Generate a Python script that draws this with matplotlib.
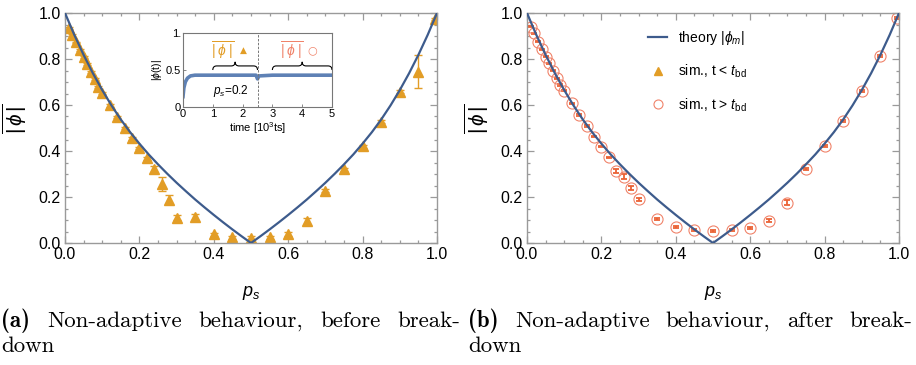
import matplotlib
matplotlib.use('Agg')
import matplotlib.pyplot as plt
from matplotlib.path import Path
from matplotlib.patches import PathPatch
from matplotlib.lines import Line2D
from matplotlib.ticker import MultipleLocator, FormatStrFormatter, FixedLocator, FixedFormatter

plt.rcParams['font.family'] = ['Liberation Sans', 'DejaVu Sans']
plt.rcParams['mathtext.fontset'] = 'custom'
plt.rcParams['mathtext.rm'] = 'Liberation Sans'
plt.rcParams['mathtext.it'] = 'Liberation Sans:italic'
plt.rcParams['mathtext.bf'] = 'Liberation Sans:bold'
plt.rcParams['mathtext.fallback'] = 'stixsans'

# ---------------- data ----------------
theory_p = [0.000, 0.025, 0.050, 0.075, 0.100, 0.125, 0.150, 0.175, 0.200, 0.225,
            0.250, 0.275, 0.300, 0.325, 0.350, 0.375, 0.400, 0.425, 0.450, 0.475,
            0.500, 0.525, 0.550, 0.575, 0.600, 0.625, 0.650, 0.675, 0.700, 0.725,
            0.750, 0.775, 0.800, 0.825, 0.850, 0.875, 0.900, 0.925, 0.950, 0.975, 1.000]
theory_v = [1.000, 0.905, 0.818, 0.738, 0.665, 0.598, 0.537, 0.482, 0.432, 0.385,
            0.342, 0.301, 0.262, 0.225, 0.189, 0.155, 0.122, 0.090, 0.059, 0.029,
            0.000, 0.029, 0.059, 0.090, 0.122, 0.155, 0.189, 0.225, 0.262, 0.301,
            0.342, 0.385, 0.432, 0.482, 0.537, 0.598, 0.665, 0.738, 0.818, 0.905, 1.000]

sim_p = [0.01, 0.02, 0.03, 0.04, 0.05, 0.06, 0.07, 0.08, 0.09, 0.10,
         0.12, 0.14, 0.16, 0.18, 0.20, 0.22, 0.24, 0.26, 0.28, 0.30,
         0.35, 0.40, 0.45, 0.50, 0.55, 0.60, 0.65, 0.70, 0.75, 0.80, 0.85, 0.90, 0.95,
         0.995]
before_v = [0.935, 0.903, 0.872, 0.838, 0.808, 0.778, 0.745, 0.712, 0.680, 0.652,
            0.598, 0.548, 0.500, 0.455, 0.414, 0.368, 0.322, 0.258, 0.188, 0.110,
            0.112, 0.037, 0.025, 0.022, 0.025, 0.040, 0.095, 0.228, 0.320, 0.420, 0.527, 0.658, 0.745,
            0.975]
before_err = [0.004, 0.004, 0.004, 0.004, 0.004, 0.004, 0.004, 0.004, 0.004, 0.004,
              0.005, 0.005, 0.005, 0.005, 0.005, 0.005, 0.012, 0.030, 0.020, 0.012,
              0.012, 0.008, 0.006, 0.008, 0.006, 0.008, 0.015, 0.008, 0.006, 0.006, 0.006, 0.006, 0.072,
              0.004]
after_v = [0.940, 0.912, 0.875, 0.842, 0.810, 0.781, 0.749, 0.716, 0.687, 0.662,
           0.607, 0.557, 0.509, 0.462, 0.419, 0.373, 0.314, 0.288, 0.240, 0.190,
           0.103, 0.071, 0.057, 0.054, 0.057, 0.067, 0.097, 0.175, 0.320, 0.422, 0.532, 0.662, 0.813,
           0.978]
after_err = [0.003, 0.003, 0.003, 0.003, 0.003, 0.003, 0.003, 0.003, 0.003, 0.003,
             0.003, 0.003, 0.003, 0.003, 0.003, 0.003, 0.008, 0.010, 0.010, 0.007,
             0.004, 0.004, 0.004, 0.004, 0.004, 0.004, 0.006, 0.010, 0.004, 0.004, 0.004, 0.004, 0.004,
             0.003]

inset_t = [0.0, 0.03, 0.08, 0.15, 0.25, 0.4, 0.7, 1.0, 1.5, 2.0, 2.45, 2.5, 2.55,
           3.0, 3.5, 4.0, 4.5, 5.0]
inset_v = [0.14, 0.26, 0.34, 0.39, 0.42, 0.43, 0.43, 0.43, 0.43, 0.43, 0.43, 0.38, 0.42,
           0.43, 0.43, 0.43, 0.43, 0.43]
breakdown_t = 2.5
windows = [(1.0, 2.5), (3.0, 5.0)]

xticks = [0.0, 0.2, 0.4, 0.6, 0.8, 1.0]
yticks = [0.0, 0.2, 0.4, 0.6, 0.8, 1.0]

# ---------------- styles ----------------
C_THEORY = '#3d5b8c'
C_ORANGE = '#e29d26'
C_RED = '#eb6235'
C_RED_LIGHT = '#f0836a'
C_INSET = '#5e81b5'
C_SPINE = '#9a9a9a'

W, H = 916, 365
fig = plt.figure(figsize=(W / 100, H / 100), dpi=100)


def px_axes(l, r, t, b):
    return fig.add_axes([l / W, (H - b) / H, (r - l) / W, (b - t) / H])


def style_main(ax):
    ax.set_xlim(0, 1)
    ax.set_ylim(0, 1)
    ax.xaxis.set_major_locator(FixedLocator(xticks))
    ax.yaxis.set_major_locator(FixedLocator(yticks))
    ax.xaxis.set_minor_locator(MultipleLocator(0.05))
    ax.yaxis.set_minor_locator(MultipleLocator(0.05))
    ax.xaxis.set_major_formatter(FormatStrFormatter('%.1f'))
    ax.yaxis.set_major_formatter(FormatStrFormatter('%.1f'))
    ax.tick_params(which='both', direction='in', top=True, right=True,
                   color=C_SPINE, labelsize=11.5, width=0.9)
    ax.tick_params(which='major', length=5, pad=3)
    ax.tick_params(which='minor', length=2.5)
    for s in ax.spines.values():
        s.set_color(C_SPINE)
        s.set_linewidth(1.0)
    ax.set_xlabel(r'$p_s$', fontsize=13, labelpad=16)
    ax.set_ylabel(r'$\overline{|\,\phi\,|}$', fontsize=15, rotation=90)
    ax.yaxis.set_label_coords(-0.097, 0.54)


def brace(ax, x0, x1, y, h, q, color='black', lw=0.8):
    xm = 0.5 * (x0 + x1)
    ym = y + h / 2
    verts = [(x0, y), (x0, ym), (x0 + q, ym), (xm - q, ym), (xm, ym), (xm, y + h),
             (xm, ym), (xm + q, ym), (x1 - q, ym), (x1, ym), (x1, y)]
    codes = [Path.MOVETO, Path.CURVE3, Path.CURVE3, Path.LINETO, Path.CURVE3, Path.CURVE3,
             Path.CURVE3, Path.CURVE3, Path.LINETO, Path.CURVE3, Path.CURVE3]
    ax.add_patch(PathPatch(Path(verts, codes), fill=False, edgecolor=color, lw=lw,
                           clip_on=False))


# ---------------- panel (a) ----------------
ax1 = px_axes(65, 437, 13, 243)
ax1.plot(theory_p, theory_v, color=C_THEORY, lw=1.6, zorder=3)
ax1.errorbar(sim_p, before_v, yerr=before_err, fmt='^', color=C_ORANGE, ms=7.5,
             mec=C_ORANGE, elinewidth=1.0, capsize=3, capthick=1.0, zorder=2)
style_main(ax1)

# inset
axi = px_axes(183, 332, 33, 107)
axi.plot(inset_t, inset_v, color=C_INSET, lw=2.6, solid_joinstyle='round')
axi.axvline(breakdown_t, color='#777777', lw=0.7, ls=(0, (2.5, 1.5)))
axi.set_xlim(0, 5)
axi.set_ylim(0, 1)
axi.xaxis.set_major_locator(FixedLocator([0, 1, 2, 3, 4, 5]))
axi.yaxis.set_major_locator(FixedLocator([0, 0.5, 1.0]))
axi.yaxis.set_major_formatter(FixedFormatter(['0', '0.5', '1.']))
axi.tick_params(which='both', direction='in', labelsize=8, length=2.5, pad=1.5,
                color='#888888', width=0.7)
for s in axi.spines.values():
    s.set_color('#777777')
    s.set_linewidth(0.8)
axi.set_xlabel('time [10$^3$ts]', fontsize=8, labelpad=1)
axi.set_ylabel(r'$|\phi$(t)$|$', fontsize=7.5, labelpad=1)
axi.text(1.0, 0.22, r'$p_s$=0.2', fontsize=8.5, va='center', ha='left')
for (w0, w1) in windows:
    brace(axi, w0, w1, 0.50, 0.11, 0.13)
axi.text(1.32, 0.76, r'$\overline{|\;\phi\;|}$', color=C_ORANGE, fontsize=10,
         ha='center', va='center')
axi.text(2.03, 0.76, '\u25B2', color=C_ORANGE, fontsize=6.5, ha='center', va='center',
         family='DejaVu Sans')
axi.text(3.63, 0.76, r'$\overline{|\;\phi\;|}$', color=C_RED_LIGHT, fontsize=10,
         ha='center', va='center')
axi.text(4.33, 0.76, '\u25CB', color=C_RED_LIGHT, fontsize=8, ha='center', va='center',
         family='DejaVu Sans')

# ---------------- panel (b) ----------------
ax2 = px_axes(527, 899, 13, 243)
ax2.plot(theory_p, theory_v, color=C_THEORY, lw=1.6, zorder=3)
ax2.errorbar(sim_p, after_v, yerr=after_err, fmt='none', ecolor=C_RED,
             elinewidth=1.3, capsize=2.5, capthick=1.3, zorder=2)
ax2.plot(sim_p, after_v, 'o', ms=8, mfc='none', mec=C_RED_LIGHT, mew=0.8, zorder=2)
style_main(ax2)

handles = [Line2D([], [], color=C_THEORY, lw=1.6),
           Line2D([], [], marker='^', ls='', color=C_ORANGE, ms=5.5),
           Line2D([], [], marker='o', ls='', mfc='none', mec=C_RED_LIGHT, ms=6.5, mew=0.8)]
labels = [r'theory $|\phi_m|$', r'sim., t < $t_{\mathrm{bd}}$', r'sim., t > $t_{\mathrm{bd}}$']
ax2.legend(handles, labels, loc='upper left', bbox_to_anchor=(0.31, 0.955), frameon=False,
           fontsize=10, handlelength=1.4, handletextpad=0.8, labelspacing=1.15,
           borderaxespad=0)

# ---------------- captions ----------------
renderer = fig.canvas.get_renderer()


def justified(words, x0, x1, ybase, bold_first=True, justify=True, size=16.5):
    objs = []
    for i, w in enumerate(words):
        fam = 'cmb10' if (bold_first and i == 0) else 'cmr10'
        objs.append(fig.text(0, ybase / H, w, family=fam, fontsize=size, va='baseline'))
    widths = [o.get_window_extent(renderer).width for o in objs]
    if justify and len(words) > 1:
        gap = ((x1 - x0) - sum(widths)) / (len(words) - 1)
    else:
        gap = 6
    x = x0
    for o, w in zip(objs, widths):
        o.set_x(x / W)
        x += w + gap


justified(['(a)', 'Non-adaptive', 'behaviour,', 'before', 'break-'], 1, 460, H - 327)
justified(['down'], 1, 460, H - 352, bold_first=False, justify=False)
justified(['(b)', 'Non-adaptive', 'behaviour,', 'after', 'break-'], 468, 912, H - 327)
justified(['down'], 468, 912, H - 352, bold_first=False, justify=False)

fig.savefig('out.png', dpi=100)
